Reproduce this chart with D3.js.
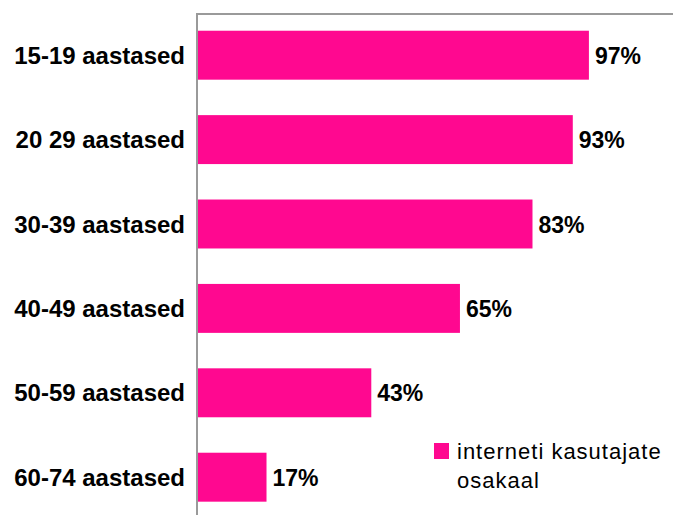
<!DOCTYPE html>
<html>
<head>
<meta charset="utf-8">
<script src="https://cdn.jsdelivr.net/npm/d3@7"></script>
<style>
  body { margin: 0; background: #fff; }
  svg { display: block; }
</style>
</head>
<body>
<svg></svg>
<script>
const categories = ["15-19 aastased", "20 29 aastased", "30-39 aastased", "40-49 aastased", "50-59 aastased", "60-74 aastased"];
const values = [97, 93, 83, 65, 43, 17];
const seriesName = ["interneti kasutajate", "osakaal"];

const width = 673;
const height = 515;
const pink = "#ff0890";

const svg = d3.select("svg").attr("width", width).attr("height", height);

const xScale = d3.scaleLinear().domain([0, 100]).range([198, 601]);
const yScale = d3.scaleBand()
    .domain(categories)
    .range([13, 519.4])
    .paddingInner(0.42)
    .paddingOuter(0.21);

// bars
svg.selectAll("rect.bar")
    .data(values)
    .enter()
    .append("rect")
    .attr("class", "bar")
    .attr("x", xScale(0))
    .attr("y", (d, i) => yScale(categories[i]))
    .attr("width", d => xScale(d) - xScale(0))
    .attr("height", yScale.bandwidth())
    .attr("fill", pink);

// value labels
svg.selectAll("text.val")
    .data(values)
    .enter()
    .append("text")
    .attr("class", "val")
    .attr("x", d => xScale(d) + 6)
    .attr("y", (d, i) => yScale(categories[i]) + yScale.bandwidth() / 2 + 8.5)
    .attr("font-family", "Liberation Sans, Arial, sans-serif")
    .attr("font-weight", "bold")
    .attr("font-size", 23)
    .attr("fill", "#000")
    .text(d => d + "%");

// category axis, only the line and labels
const yAxis = d3.axisLeft(yScale).tickSize(0).tickPadding(12);
const gy = svg.append("g")
    .attr("transform", "translate(197,0)")
    .call(yAxis);
gy.select(".domain").remove();
gy.selectAll("text")
    .attr("font-family", "Liberation Sans, Arial, sans-serif")
    .attr("font-weight", "bold")
    .attr("font-size", 24)
    .attr("fill", "#000")
    .attr("dy", "0.36em");

// frame lines (left and top)
svg.append("line")
    .attr("x1", 197).attr("x2", 197)
    .attr("y1", 13).attr("y2", height)
    .attr("stroke", "#9a9a9a").attr("stroke-width", 2);
svg.append("line")
    .attr("x1", 196).attr("x2", width)
    .attr("y1", 14).attr("y2", 14)
    .attr("stroke", "#9a9a9a").attr("stroke-width", 2);

// legend
const legend = svg.append("g").attr("transform", "translate(434,443)");
legend.append("rect")
    .attr("width", 15).attr("height", 16)
    .attr("fill", pink);
legend.selectAll("text")
    .data(seriesName)
    .enter()
    .append("text")
    .attr("x", 23)
    .attr("y", (d, i) => 16 + i * 29)
    .attr("font-family", "Liberation Sans, Arial, sans-serif")
    .attr("font-size", 22)
    .attr("letter-spacing", 1)
    .attr("fill", "#000")
    .text(d => d);
</script>
</body>
</html>
